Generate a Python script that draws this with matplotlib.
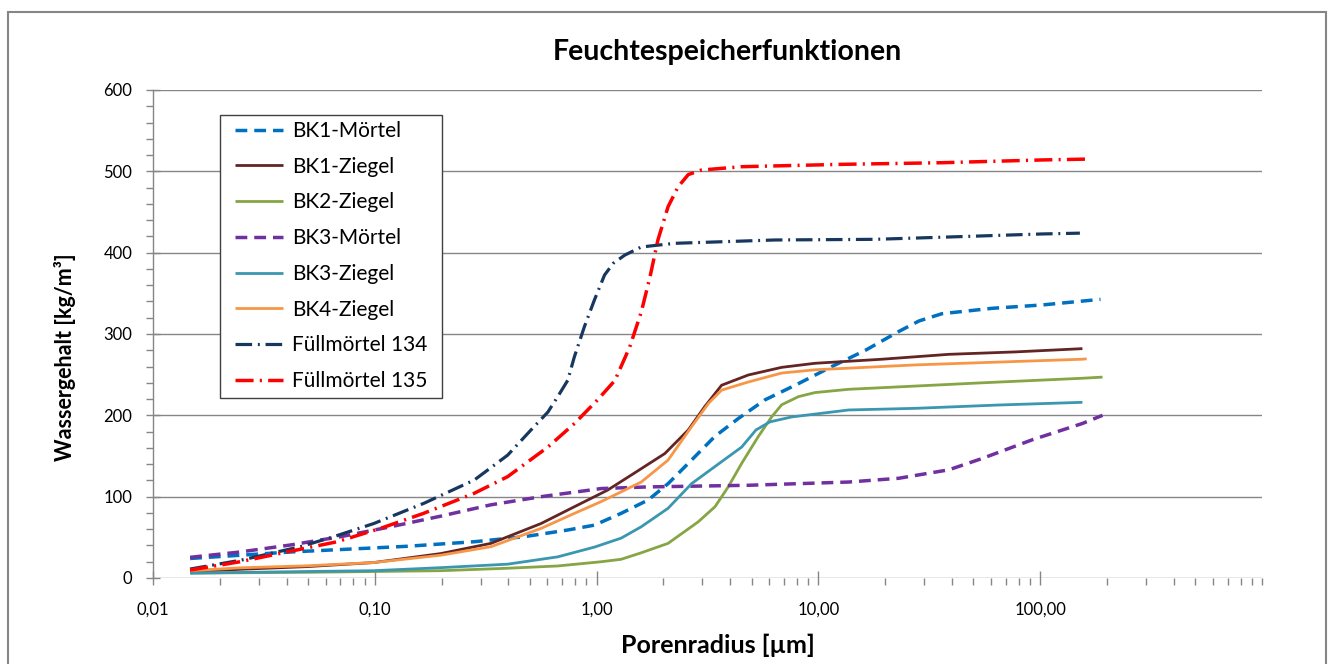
import matplotlib
matplotlib.use("Agg")
import matplotlib.pyplot as plt
from matplotlib.patches import Rectangle
from matplotlib.ticker import FixedLocator, NullFormatter

plt.rcParams["font.family"] = ["Lato", "DejaVu Sans"]

# ---- data: pore radius [µm] and water content [kg/m³] ----
bk1_moertel_r = [0.0147, 0.0247, 0.0417, 0.0701, 0.140, 0.281, 0.472, 0.741, 0.978, 1.29, 1.71,
                 2.10, 2.68, 3.41, 4.35, 5.74, 8.13, 11.5, 16.3, 23.0, 28.4, 36.1, 60.8, 102, 187]
bk1_moertel_w = [24, 28, 32, 35, 39, 44.6, 50.8, 59, 65, 79.5, 96,
                 116, 145, 174, 196, 219, 239, 260, 280, 303, 316, 325, 331.6, 335.7, 342.6]

bk1_ziegel_r = [0.0147, 0.0247, 0.0495, 0.099, 0.198, 0.334, 0.562, 0.795, 1.12, 1.48, 2.03,
                2.59, 3.07, 3.66, 4.83, 6.83, 9.66, 19.4, 38.7, 77.5, 155]
bk1_ziegel_w = [7.4, 10.7, 14, 19, 30, 42.6, 67, 87.7, 108, 129, 153,
                182, 210.6, 237, 249.6, 259, 264, 269, 275, 278, 282]

bk2_ziegel_r = [0.0147, 0.05, 0.1, 0.2, 0.397, 0.668, 1.05, 1.29, 1.59, 2.10, 2.87,
                3.42, 3.92, 4.51, 5.36, 6.15, 6.83, 8.13, 9.66, 13.7, 27.4, 54.8, 155, 191]
bk2_ziegel_w = [6, 7, 8, 9, 12, 14.8, 20, 23, 31, 42.6, 69,
                87.7, 112, 141, 174, 198, 213, 223, 228, 232, 236, 240, 245.6, 247]

bk3_moertel_r = [0.0147, 0.0247, 0.0417, 0.0701, 0.118, 0.198, 0.334, 0.562, 1.05, 1.71, 4.83,
                 13.7, 23.0, 38.7, 54.8, 92.2, 155, 191]
bk3_moertel_w = [25.4, 32, 40.6, 50.8, 63, 76, 90, 100, 110, 112, 114,
                 118, 122.6, 133, 147, 170, 190, 200]

bk3_ziegel_r = [0.0147, 0.05, 0.099, 0.198, 0.397, 0.668, 0.978, 1.29, 1.59, 2.10, 2.68,
                3.66, 4.51, 5.23, 6.05, 7.57, 13.7, 27.4, 65.0, 155]
bk3_ziegel_w = [6, 8, 9, 12.7, 17, 26, 38, 49, 63, 85.7, 116,
                143, 161, 182, 192, 198, 206.6, 208.6, 212.7, 216]

bk4_ziegel_r = [0.0147, 0.0247, 0.0495, 0.099, 0.198, 0.334, 0.562, 0.795, 1.05, 1.59, 2.10,
                2.68, 3.20, 3.66, 4.83, 6.83, 9.66, 27.4, 155, 162]
bk4_ziegel_w = [9, 12.5, 15, 19, 28, 38.5, 61, 79.5, 94, 118, 145,
                186, 215, 231, 241, 252, 256, 262, 269, 269.5]

fm134_r = [0.0147, 0.025, 0.0462, 0.0653, 0.099, 0.167, 0.281, 0.397, 0.506, 0.603, 0.668,
           0.741, 0.794, 0.881, 0.978, 1.086, 1.19, 1.34, 1.59, 2.25, 6.37, 18.0, 36.1, 102, 151]
fm134_w = [11, 22, 38.5, 50.8, 67, 92, 120.5, 151, 182, 204, 223,
           243, 272, 309, 342, 372.5, 387, 397, 407, 411.5, 415.6, 416.4, 419, 423, 424]

fm135_r = [0.0147, 0.0247, 0.0402, 0.0677, 0.106, 0.166, 0.280, 0.397, 0.603, 0.795, 1.01,
           1.21, 1.41, 1.59, 1.74, 1.89, 2.10, 2.33, 2.59, 2.97, 4.51, 12.8, 36.1, 102, 160]
fm135_w = [9.8, 20, 32, 44.6, 61, 79.5, 104, 124.6, 161, 190, 219,
           243, 284, 327, 370, 415.6, 456.5, 481, 496, 501.6, 505.7, 508.6, 510.6, 514, 515]

series_names = ["BK1-Mörtel", "BK1-Ziegel", "BK2-Ziegel", "BK3-Mörtel",
                "BK3-Ziegel", "BK4-Ziegel", "Füllmörtel 134", "Füllmörtel 135"]

x_ticks = [0.01, 0.1, 1, 10, 100]
x_tick_labels = ["0,01", "0,10", "1,00", "10,00", "100,00"]
y_ticks = [0, 100, 200, 300, 400, 500, 600]

# ---- styles ----
dash = (0, (3.4, 2.0))
dashdot = (0, (5.2, 1.8, 0.6, 1.8))
styles = [
    dict(color="#0070C0", lw=2.5, ls=dash),
    dict(color="#632523", lw=2.0, ls="-"),
    dict(color="#86A545", lw=2.0, ls="-"),
    dict(color="#7030A0", lw=2.5, ls=dash),
    dict(color="#3B97B0", lw=2.0, ls="-"),
    dict(color="#F79646", lw=2.0, ls="-"),
    dict(color="#17375E", lw=2.3, ls=dashdot),
    dict(color="#FF0000", lw=2.5, ls=dashdot),
]
series = [(bk1_moertel_r, bk1_moertel_w), (bk1_ziegel_r, bk1_ziegel_w),
          (bk2_ziegel_r, bk2_ziegel_w), (bk3_moertel_r, bk3_moertel_w),
          (bk3_ziegel_r, bk3_ziegel_w), (bk4_ziegel_r, bk4_ziegel_w),
          (fm134_r, fm134_w), (fm135_r, fm135_w)]

W, H = 1336, 664
AX_L, AX_R, AX_T, AX_B = 153, 1262, 90, 578
fig = plt.figure(figsize=(W / 100, H / 100), dpi=100)
ax = fig.add_axes([AX_L / W, 1 - AX_B / H, (AX_R - AX_L) / W, (AX_B - AX_T) / H])


def ax_frac(px, py):
    """Pixel position in the figure -> axes fraction."""
    return (px - AX_L) / (AX_R - AX_L), (AX_B - py) / (AX_B - AX_T)


grey = "#868686"

for (r, w), name, st in zip(series, series_names, styles):
    ax.plot(r, w, label=name, color=st["color"], lw=st["lw"], ls=st["ls"],
            solid_capstyle="butt", dash_capstyle="butt")

ax.set_xscale("log")
ax.set_xlim(0.01, 1000)
ax.set_ylim(0, 600)

ax.xaxis.set_major_locator(FixedLocator(x_ticks))
ax.set_xticklabels(x_tick_labels)
minor = [m * 10.0 ** e for e in range(-2, 3) for m in range(2, 10)] + [1000]
ax.xaxis.set_minor_locator(FixedLocator(minor))
ax.xaxis.set_minor_formatter(NullFormatter())

ax.yaxis.set_major_locator(FixedLocator(y_ticks))
ax.yaxis.set_minor_locator(FixedLocator(list(range(0, 601, 20))))

ax.grid(axis="y", which="major", color=grey, lw=1.0)
ax.set_axisbelow(True)

for s in ["top", "right", "bottom"]:
    ax.spines[s].set_visible(False)
ax.spines["left"].set_color(grey)
ax.spines["left"].set_linewidth(1.0)

ax.tick_params(axis="x", which="major", direction="inout", length=10, width=1,
               color=grey, pad=12, labelsize=12, labelcolor="black")
ax.tick_params(axis="x", which="minor", direction="out", length=5, width=1, color=grey)
ax.tick_params(axis="y", which="major", direction="inout", length=10, width=1,
               color=grey, pad=10, labelsize=12, labelcolor="black")
ax.tick_params(axis="y", which="minor", direction="out", length=5, width=1, color=grey)

ax.set_xlabel("Porenradius [µm]", fontsize=18, fontweight="bold")
ax.xaxis.set_label_coords(*ax_frac(718, 634))
ax.set_ylabel("Wassergehalt [kg/m³]", fontsize=15.5, fontweight="bold")
ax.yaxis.set_label_coords(*ax_frac(65, 357))
ax.yaxis.label.set_va("center")
fig.text(727 / W, 1 - 52 / H, "Feuchtespeicherfunktionen", ha="center", va="center",
         fontsize=20.5, fontweight="bold")

# legend box (white panel with dark outline) and the entries on top of it
bx0, by0 = ax_frac(220, 398)
bx1, by1 = ax_frac(442, 115)
ax.add_patch(Rectangle((bx0, by0), bx1 - bx0, by1 - by0, transform=ax.transAxes,
                       facecolor="white", edgecolor="#404040", lw=1.0, zorder=4.5))
leg = ax.legend(loc="upper left", bbox_to_anchor=ax_frac(235, 121),
                fontsize=15, frameon=False, borderpad=0.0,
                labelspacing=0.755, handlelength=2.3, handletextpad=0.42,
                borderaxespad=0)
leg.set_zorder(5)

# outer chart border
fig.patches.append(Rectangle((8 / W, -0.1), 1318 / W, 1.1 - 12 / H,
                             transform=fig.transFigure, fill=False,
                             edgecolor=grey, lw=1.5))

fig.savefig("out.png", dpi=100)
